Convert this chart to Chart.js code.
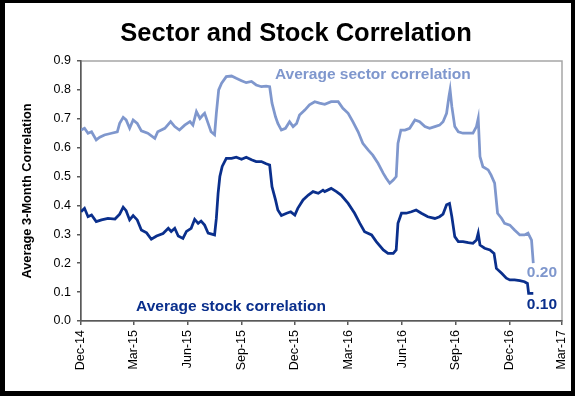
<!DOCTYPE html>
<html>
<head>
<meta charset="utf-8">
<script src="https://cdn.jsdelivr.net/npm/chart.js@4"></script>
<style>
    html, body { margin: 0; padding: 0; background: #000; }
    #wrap { width: 575px; height: 396px; }
</style>
</head>
<body>
<div id="wrap"><canvas id="myChart" width="575" height="396"></canvas></div>
<script>
// Jours depuis le 1er déc. 2014 et valeurs
var sectorDays = [0, 6, 12, 18, 26, 32, 40, 52, 62, 66, 72, 77, 83, 89, 96, 103, 114, 126, 131, 143, 153, 160, 168, 177, 186, 191,
    197, 203, 208, 211, 217, 222, 228, 231, 235, 240, 248, 257, 265, 274, 282, 291, 299, 308, 316, 322, 326, 332, 336, 342, 349,
    356, 362, 368, 373, 382, 390, 399, 407, 416, 427, 439, 447, 456, 464, 473, 481, 490, 498, 507, 516, 521, 527, 533, 538, 541,
    546, 553, 561, 570, 578, 587, 595, 604, 612, 618, 624, 628, 630, 633, 638, 644, 652, 661, 669, 675, 678, 681, 686, 695, 700,
    706, 711, 718, 723, 732, 740, 749, 757, 763, 769, 772];
var sectorValues = [0.661, 0.667, 0.650, 0.655, 0.627, 0.636, 0.644, 0.650, 0.655, 0.684, 0.705, 0.696, 0.667, 0.696, 0.684, 0.658,
    0.650, 0.632, 0.655, 0.667, 0.690, 0.673, 0.661, 0.678, 0.690, 0.678,
    0.725, 0.701, 0.713, 0.719, 0.684, 0.655, 0.645, 0.719, 0.800, 0.823, 0.846, 0.848, 0.840, 0.832, 0.825, 0.829, 0.817, 0.811,
    0.813, 0.811, 0.754, 0.707, 0.684, 0.661, 0.667, 0.690, 0.673, 0.684, 0.713, 0.730, 0.748, 0.759, 0.754, 0.750, 0.759, 0.759,
    0.736, 0.719, 0.690, 0.655, 0.615, 0.592, 0.574, 0.546, 0.511, 0.494, 0.477, 0.488, 0.500, 0.615, 0.661, 0.661, 0.667, 0.696,
    0.690, 0.673, 0.667, 0.673, 0.678, 0.690, 0.719, 0.776, 0.800, 0.742, 0.673, 0.655, 0.650, 0.650, 0.650, 0.673, 0.701, 0.569,
    0.534, 0.523, 0.505, 0.477, 0.373, 0.355, 0.338, 0.332, 0.315, 0.298, 0.298, 0.304, 0.280, 0.200];

var stockDays = [0, 6, 12, 18, 26, 35, 46, 58, 66, 72, 77, 83, 89, 96, 103, 112, 120, 129, 140, 149, 154, 160, 166, 174, 180, 188,
    194, 200, 205, 211, 217, 228, 231, 234, 237, 241, 248, 257, 265, 274, 282, 291, 299, 308, 316, 322, 326, 332, 336, 342, 351,
    358, 365, 370, 379, 388, 396, 405, 413, 416, 427, 436, 444, 456, 467, 476, 484, 496, 504, 516, 524, 533, 538, 541, 547, 555,
    564, 572, 581, 592, 604, 612, 618, 624, 629, 633, 638, 644, 652, 661, 669, 675, 678, 681, 689, 698, 705, 709, 718, 726, 732,
    740, 749, 757, 762, 764, 772];
var stockValues = [0.378, 0.390, 0.361, 0.367, 0.344, 0.350, 0.355, 0.353, 0.370, 0.394, 0.382, 0.350, 0.365, 0.350, 0.315, 0.305,
    0.283, 0.294, 0.303, 0.321, 0.310, 0.321, 0.294, 0.286, 0.310, 0.321,
    0.352, 0.338, 0.346, 0.332, 0.304, 0.298, 0.355, 0.442, 0.500, 0.535, 0.563, 0.563, 0.567, 0.560, 0.567, 0.558, 0.552, 0.552,
    0.544, 0.540, 0.465, 0.419, 0.384, 0.365, 0.373, 0.378, 0.367, 0.390, 0.419, 0.436, 0.448, 0.442, 0.453, 0.448, 0.459, 0.448,
    0.436, 0.407, 0.373, 0.338, 0.309, 0.298, 0.275, 0.246, 0.234, 0.234, 0.246, 0.338, 0.373, 0.373, 0.378, 0.384, 0.373, 0.361,
    0.355, 0.361, 0.370, 0.402, 0.407, 0.361, 0.292, 0.275, 0.275, 0.271, 0.269, 0.280, 0.304, 0.263, 0.252, 0.246, 0.234, 0.182,
    0.165, 0.148, 0.142, 0.142, 0.140, 0.136, 0.130, 0.096, 0.096];

// Graduations de l'axe des dates (jours depuis le 1er déc. 2014)
var xTickDays = [0, 90, 182, 274, 365, 456, 548, 640, 731, 821];
var xTickLabels = ['Dec-14', 'Mar-15', 'Jun-15', 'Sep-15', 'Dec-15', 'Mar-16', 'Jun-16', 'Sep-16', 'Dec-16', 'Mar-17'];

var sectorColor = '#7f97cd';
var stockColor = '#0a2f8c';
var fontFamily = '"Liberation Sans", Arial, sans-serif';

function toPoints(days, values) {
    return days.map(function(d, i) { return { x: d, y: values[i] }; });
}

// Fond blanc dans le cadre noir + bordure grise de la zone de tracé
var framePlugin = {
    id: 'frame',
    beforeDraw: function(chart) {
        var ctx = chart.ctx;
        var a = chart.chartArea;
        ctx.save();
        ctx.fillStyle = '#000';
        ctx.fillRect(0, 0, chart.width, chart.height);
        ctx.fillStyle = '#fff';
        ctx.fillRect(5, 3, 566, 388);
        ctx.strokeStyle = '#a6a6a6';
        ctx.lineWidth = 1.5;
        ctx.strokeRect(a.left, a.top, a.right - a.left, a.bottom - a.top);
        ctx.restore();
    }
};

// Étiquettes des séries dans le graphique
var labelPlugin = {
    id: 'seriesLabels',
    afterDatasetsDraw: function(chart) {
        var ctx = chart.ctx;
        var x = chart.scales.x;
        var y = chart.scales.y;
        ctx.save();
        ctx.font = 'bold 15.5px ' + fontFamily;
        ctx.textBaseline = 'middle';
        ctx.textAlign = 'left';
        ctx.fillStyle = sectorColor;
        ctx.fillText('Average sector correlation', x.getPixelForValue(331), y.getPixelForValue(0.854));
        ctx.fillText('0.20', x.getPixelForValue(761), y.getPixelForValue(0.166));
        ctx.fillStyle = stockColor;
        ctx.fillText('Average stock correlation', x.getPixelForValue(94), y.getPixelForValue(0.05));
        ctx.fillText('0.10', x.getPixelForValue(761), y.getPixelForValue(0.055));
        ctx.restore();
    }
};

var ctx = document.getElementById('myChart').getContext('2d');
var myChart = new Chart(ctx, {
    type: 'line',
    data: {
        datasets: [{
            label: 'Average sector correlation',
            data: toPoints(sectorDays, sectorValues),
            borderColor: sectorColor,
            borderWidth: 2.75,
            pointRadius: 0,
            tension: 0
        }, {
            label: 'Average stock correlation',
            data: toPoints(stockDays, stockValues),
            borderColor: stockColor,
            borderWidth: 2.75,
            pointRadius: 0,
            tension: 0
        }]
    },
    options: {
        responsive: false,
        animation: false,
        events: [],
        layout: { padding: { left: 30, right: 13, top: 0, bottom: 0 } },
        plugins: {
            legend: { display: false },
            tooltip: { enabled: false },
            title: {
                display: true,
                text: 'Sector and Stock Correlation',
                color: '#000',
                font: { family: fontFamily, size: 25.5, weight: 'bold' },
                padding: { top: 19, bottom: 11.4 }
            }
        },
        scales: {
            x: {
                type: 'linear',
                min: 0,
                max: 821,
                afterBuildTicks: function(scale) {
                    scale.ticks = xTickDays.map(function(d) { return { value: d }; });
                },
                afterFit: function(scale) {
                    scale.height = 75;
                    scale.paddingLeft = 0;
                    scale.paddingRight = 0;
                },
                ticks: {
                    autoSkip: false,
                    minRotation: 90,
                    maxRotation: 90,
                    padding: 5,
                    color: '#000',
                    font: { family: fontFamily, size: 12.5 },
                    callback: function(value) {
                        var i = xTickDays.indexOf(value);
                        return i >= 0 ? xTickLabels[i] : '';
                    }
                },
                grid: { drawOnChartArea: false, tickLength: 4, color: '#595959', lineWidth: 1.5 },
                border: { color: '#595959', width: 1.5 }
            },
            y: {
                min: 0,
                max: 0.9,
                afterFit: function(scale) { scale.width = 51; },
                ticks: {
                    stepSize: 0.1,
                    padding: 6,
                    color: '#000',
                    font: { family: fontFamily, size: 12.5 },
                    callback: function(value) { return value.toFixed(1); }
                },
                title: {
                    display: true,
                    text: 'Average 3-Month Correlation',
                    color: '#000',
                    font: { family: fontFamily, size: 12.8, weight: 'bold' },
                    padding: { top: -10, bottom: 0 }
                },
                grid: { drawOnChartArea: false, tickLength: 4, color: '#595959', lineWidth: 1.5 },
                border: { color: '#595959', width: 1.5 }
            }
        }
    },
    plugins: [framePlugin, labelPlugin]
});
</script>
</body>
</html>
